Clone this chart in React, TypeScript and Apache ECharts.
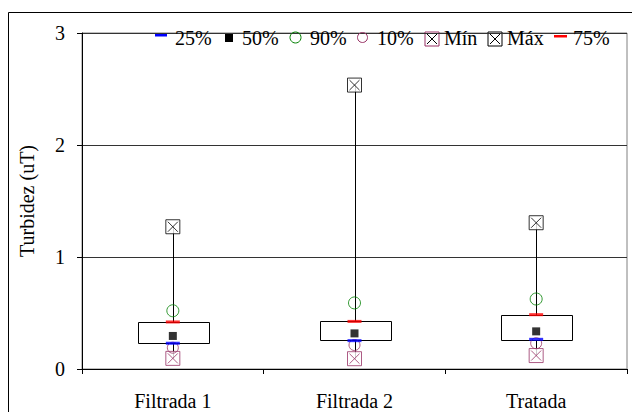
import React, { useEffect, useRef } from "react";
import * as echarts from "echarts";

const categories = ["Filtrada 1", "Filtrada 2", "Tratada"];
const minVals = [0.095, 0.092, 0.12];
const p10Vals = [0.19, 0.214, 0.23];
const p25Vals = [0.23, 0.253, 0.265];
const p50Vals = [0.295, 0.318, 0.336];
const p75Vals = [0.42, 0.425, 0.485];
const p90Vals = [0.52, 0.59, 0.625];
const maxVals = [1.27, 2.535, 1.306];
const yTicks = [0, 1, 2, 3];

const FONT = "Liberation Serif";
const FS = 20;
const PURPLE = "#993366";
const GREEN = "#008000";
const XBOX = "path://M0,0H14V14H0Z M2,2L12,12 M12,2L2,12";

export default function App() {
  const ref = useRef<HTMLDivElement>(null);
  useEffect(() => {
    if (!ref.current) return;
    const chart = echarts.init(ref.current, null, { renderer: "svg" });
    const boxData = categories.map((_, i) => [i, minVals[i], p25Vals[i], p75Vals[i], maxVals[i]]);
    const pts = (arr: number[]) => arr.map((v, i) => [i, v]);

    const legendText = (x: number, t: string) => ({
      type: "text",
      x,
      y: 38,
      style: { text: t, fontSize: FS, fontFamily: FONT, fill: "#000", verticalAlign: "middle", align: "left" },
      z: 100,
    });
    const xBoxIcon = (x: number, color: string) => ({
      type: "group",
      x,
      y: 32,
      z: 100,
      children: [
        { type: "rect", shape: { x: 0, y: 0, width: 14, height: 14 }, style: { fill: "#fff", stroke: color, lineWidth: 1 } },
        { type: "line", shape: { x1: 2, y1: 2, x2: 12, y2: 12 }, style: { stroke: "#000", lineWidth: 1 } },
        { type: "line", shape: { x1: 12, y1: 2, x2: 2, y2: 12 }, style: { stroke: "#000", lineWidth: 1 } },
      ],
    });

    const option: any = {
      animation: false,
      backgroundColor: "#fff",
      textStyle: { fontFamily: FONT },
      grid: {
        left: 82,
        right: 5,
        top: 33,
        bottom: 43,
        show: true,
        borderColor: "#808080",
        borderWidth: 1,
        backgroundColor: "transparent",
      },
      xAxis: {
        type: "category",
        data: categories,
        boundaryGap: true,
        axisLine: { lineStyle: { color: "#000", width: 1 } },
        axisTick: { show: true, inside: false, length: 5, alignWithLabel: false, lineStyle: { color: "#000" } },
        axisLabel: { color: "#000", fontSize: FS, fontFamily: FONT, margin: 22 },
        splitLine: { show: false },
      },
      yAxis: {
        type: "value",
        min: 0,
        max: 3,
        interval: 1,
        name: "Turbidez (uT)",
        nameLocation: "middle",
        nameGap: 45,
        nameRotate: 90,
        nameTextStyle: { color: "#000", fontSize: FS, fontFamily: FONT },
        axisLine: { show: true, lineStyle: { color: "#000", width: 1 } },
        axisTick: { show: true, inside: false, length: 5, lineStyle: { color: "#000" } },
        axisLabel: {
          color: "#000",
          fontSize: FS,
          fontFamily: FONT,
          margin: 17,
          formatter: (v: number) => (yTicks.includes(v) ? String(v) : ""),
        },
        splitLine: { show: true, lineStyle: { color: "#333", width: 1 } },
      },
      graphic: [
        {
          type: "rect",
          shape: { x: 8.5, y: 12.5, width: 700, height: 500 },
          style: { fill: "none", stroke: "#000", lineWidth: 1 },
          z: 100,
          silent: true,
        },
        { type: "rect", shape: { x: 155, y: 34, width: 12, height: 2.5 }, style: { fill: "#0000ff" }, z: 100 },
        legendText(175, "25%"),
        { type: "rect", shape: { x: 225, y: 34, width: 8, height: 8 }, style: { fill: "#000" }, z: 100 },
        legendText(242, "50%"),
        { type: "circle", shape: { cx: 295.5, cy: 37.5, r: 5.5 }, style: { fill: "none", stroke: GREEN, lineWidth: 1 }, z: 100 },
        legendText(310, "90%"),
        { type: "circle", shape: { cx: 362.5, cy: 37.5, r: 5 }, style: { fill: "none", stroke: PURPLE, lineWidth: 1 }, z: 100 },
        legendText(377, "10%"),
        xBoxIcon(425, PURPLE),
        legendText(444, "Mín"),
        xBoxIcon(488, "#000"),
        legendText(507, "Máx"),
        { type: "rect", shape: { x: 554, y: 35, width: 13, height: 2.5 }, style: { fill: "#ff0000" }, z: 100 },
        legendText(573, "75%"),
      ],
      series: [
        {
          type: "custom",
          name: "box",
          data: boxData,
          z: 2,
          renderItem: (params: any, api: any) => {
            const i = api.value(0);
            const pMin = api.coord([i, api.value(1)]);
            const pQ1 = api.coord([i, api.value(2)]);
            const pQ3 = api.coord([i, api.value(3)]);
            const pMax = api.coord([i, api.value(4)]);
            const band = api.size([1, 0])[0];
            const w = band * 0.39;
            const cx = Math.round(pMin[0]) + 0.5;
            return {
              type: "group",
              children: [
                {
                  type: "line",
                  shape: { x1: cx, y1: pMin[1], x2: cx, y2: pMax[1] },
                  style: { stroke: "#000", lineWidth: 1 },
                },
                {
                  type: "rect",
                  shape: { x: Math.round(cx - w / 2) + 0.5, y: Math.round(pQ3[1]) + 0.5, width: Math.round(w), height: Math.round(pQ1[1] - pQ3[1]) },
                  style: { fill: "#fff", stroke: "#000", lineWidth: 1 },
                },
              ],
            };
          },
        },
        {
          type: "scatter",
          name: "Máx",
          data: pts(maxVals),
          symbol: XBOX,
          symbolSize: 14,
          itemStyle: { color: "#fff", borderColor: "#000", borderWidth: 1 },
          z: 3,
        },
        {
          type: "scatter",
          name: "Mín",
          data: pts(minVals),
          symbol: XBOX,
          symbolSize: 14,
          itemStyle: { color: "#fff", borderColor: PURPLE, borderWidth: 1 },
          z: 3,
        },
        {
          type: "scatter",
          name: "10%",
          data: pts(p10Vals),
          symbol: "circle",
          symbolSize: 11,
          itemStyle: { color: "transparent", borderColor: PURPLE, borderWidth: 1 },
          z: 4,
        },
        {
          type: "scatter",
          name: "90%",
          data: pts(p90Vals),
          symbol: "circle",
          symbolSize: 12,
          itemStyle: { color: "transparent", borderColor: GREEN, borderWidth: 1 },
          z: 4,
        },
        {
          type: "scatter",
          name: "25%",
          data: pts(p25Vals),
          symbol: "rect",
          symbolSize: [14, 3],
          itemStyle: { color: "#0000ff" },
          z: 5,
        },
        {
          type: "scatter",
          name: "75%",
          data: pts(p75Vals),
          symbol: "rect",
          symbolSize: [14, 3],
          itemStyle: { color: "#ff0000" },
          z: 5,
        },
        {
          type: "scatter",
          name: "50%",
          data: pts(p50Vals),
          symbol: "rect",
          symbolSize: 8,
          itemStyle: { color: "#000" },
          z: 5,
        },
      ],
    };
    chart.setOption(option);
    return () => chart.dispose();
  }, []);
  return (
    <div
      ref={ref}
      style={{ position: "absolute", left: 0, top: 0, width: 632, height: 412 }}
    />
  );
}
